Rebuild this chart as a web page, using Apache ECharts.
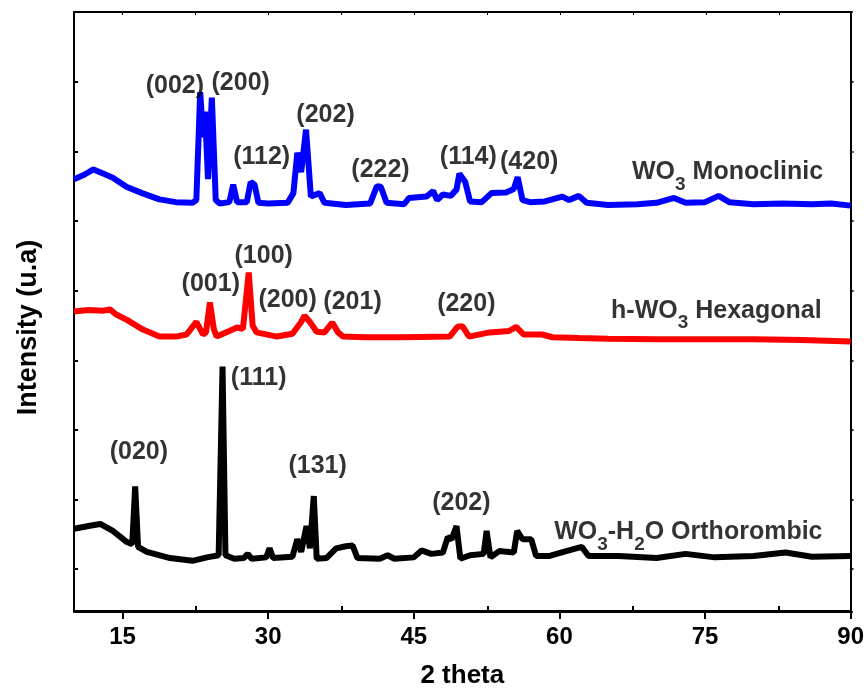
<!DOCTYPE html>
<html><head><meta charset="utf-8">
<script src="https://cdn.jsdelivr.net/npm/echarts@6/dist/echarts.min.js"></script>
<style>html,body{margin:0;padding:0;background:#fff}#c{width:867px;height:694px}</style>
</head><body><div id="c"></div>
<script>
// ---- data (2 theta in degrees, intensity in arbitrary units with vertical offsets) ----
const monoTheta = [10.0,11.0,12.0,13.0,14.0,15.4,17.0,18.8,20.5,22.2,22.6,23.0,23.3,23.5,23.8,24.2,24.6,25.0,26.0,26.4,26.8,27.8,28.2,28.6,29.0,30.0,32.0,32.6,33.0,33.4,33.9,34.4,35.3,35.8,38.0,40.5,41.2,41.6,42.2,44.0,44.5,46.3,47.0,47.4,48.0,48.8,49.4,49.7,50.3,50.8,52.0,53.0,54.5,55.3,55.7,56.2,57.0,58.5,60.3,61.0,62.0,62.8,65.0,68.0,70.0,71.8,73.0,75.0,76.4,77.5,80.0,83.0,86.0,88.0,90.0];
const monoInt   = [560,566,574,568,562,549,540,531,527,526,530,685,620,657,560,677,530,525,527,552,527,527,556,552,526,525,526,540,598,570,631,535,540,526,523,525,550,549,526,524,533,535,543,530,538,536,545,568,556,528,527,540,541,546,563,530,527,528,535,530,536,526,523,524,526,533,526,527,536,527,524,525,524,525,522];

const hexTheta = [10.0,11.5,13.0,13.7,14.3,15.45,17.1,18.8,20.5,21.6,22.6,23.3,23.6,24.0,24.4,24.7,26.0,26.8,27.4,28.0,28.4,28.8,30.9,32.5,33.4,33.75,34.3,35.0,35.8,36.6,37.2,37.7,40.0,44.0,48.7,49.5,50.0,50.7,52.8,54.8,55.55,56.3,58.2,59.3,62.0,65.0,70.0,75.0,80.0,85.0,90.0];
const hexInt   = [370,372,371,373,366,358,344,334,334,337,355,337,340,383,345,334,342,347,345,426,350,340,334,338,355,364,355,341,340,354,340,334,333,333,334,348,349,334,340,342,348,337,337,333,332,331,330,330,330,329,327];

const orthoTheta = [10.0,11.5,12.7,14.0,15.45,16.0,16.3,16.6,17.5,19.9,22.2,23.7,24.9,25.3,25.6,26.5,27.5,27.9,28.3,29.8,30.15,30.5,32.5,33.0,33.4,33.95,34.3,34.7,35.0,36.0,37.0,38.0,38.7,39.2,41.5,42.3,43.0,45.0,45.8,46.8,48.0,48.5,48.9,49.4,49.8,50.8,52.2,52.5,52.9,53.8,55.3,55.65,56.2,57.1,57.6,59.0,60.7,62.3,63.0,66.1,70.0,73.0,76.0,80.0,83.3,86.0,90.0];
const orthoInt   = [58,62,65,55,39,36,119,32,25,16,12,17,20,291,20,15,16,22,15,17,30,16,18,43,25,62,30,105,15,16,30,33,34,16,15,20,15,17,27,22,24,46,43,62,15,20,22,55,17,26,24,55,43,43,19,19,26,32,19,19,16,22,17,19,24,18,19];

// ---- axis ticks ----
const xTickValues = [15,30,45,60,75,90];
const xMinorTickValues = [22.5,37.5,52.5,67.5,82.5];
const xTopTickValues = [15,22.5,30,37.5,45,52.5,60,67.5,75,82.5];
const yTickValues = [0,100,200,300,400,500,600,700];

// ---- annotations (text and anchor in data units) ----
const peakText  = ['(002)','(200)','(112)','(202)','(222)','(114)','(420)','(001)','(100)','(200)','(201)','(220)','(020)','(111)','(131)','(202)'];
const peakTheta = [20.39,27.17,29.33,35.91,41.57,50.62,56.89,24.09,29.54,32.0,38.69,50.41,16.68,29.02,35.09,49.9];
const peakInt   = [694,698,591,652,573,591,585,409,449,387,384,381,168,275,148,95];

const sampleText  = ['{n|WO}{s|3}{n| Monoclinic}','{n|h-WO}{s|3}{n| Hexagonal}','{n|WO}{s|3}{n|-H}{s|2}{n|O Orthorombic}'];
const sampleTheta = [67.48,65.32,59.46];
const sampleInt   = [566,367,49];

const FONT = '"Liberation Sans", Arial, Helvetica, sans-serif';

function zip(a, b) { return a.map((v, i) => [v, b[i]]); }

const chart = echarts.init(document.getElementById('c'), null, {renderer: 'canvas'});

const peakData = peakText.map((t, i) => ({name: t, value: [peakTheta[i], peakInt[i]]}));
const sampleData = sampleText.map((t, i) => ({name: t, value: [sampleTheta[i], sampleInt[i]]}));

const option = {
  animation: false,
  backgroundColor: '#ffffff',
  grid: [
    {left: 74, right: 15, top: 12, bottom: 82},
    {left: 74, right: 15, top: 12, bottom: 82}
  ],
  xAxis: [
    {
      type: 'value', gridIndex: 0, min: 10, max: 90, position: 'bottom',
      axisLine: {show: true, onZero: false, lineStyle: {color: '#000', width: 2}},
      axisTick: {show: true, customValues: xTickValues, inside: false, length: 8, lineStyle: {color: '#000', width: 2}},
      axisLabel: {show: true, customValues: xTickValues, margin: 14, fontSize: 24, fontWeight: 'bold', color: '#000', fontFamily: FONT},
      splitLine: {show: false},
      name: '2 theta', nameLocation: 'middle', nameGap: 52,
      nameTextStyle: {fontSize: 26, fontWeight: 'bold', color: '#000', fontFamily: FONT}
    },
    {
      type: 'value', gridIndex: 1, min: 10, max: 90, position: 'bottom',
      axisLine: {show: true, onZero: false, lineStyle: {color: '#000', width: 2}},
      axisTick: {show: true, customValues: xMinorTickValues, inside: true, length: 6, lineStyle: {color: '#000', width: 2}},
      axisLabel: {show: false},
      splitLine: {show: false}
    },
    {
      type: 'value', gridIndex: 1, min: 10, max: 90, position: 'top',
      axisLine: {show: true, onZero: false, lineStyle: {color: '#000', width: 2}},
      axisTick: {show: true, customValues: xTopTickValues, inside: true, length: 3, lineStyle: {color: '#000', width: 1}},
      axisLabel: {show: false},
      splitLine: {show: false}
    }
  ],
  yAxis: [
    {
      type: 'value', gridIndex: 0, min: -60, max: 800, position: 'left',
      axisLine: {show: true, onZero: false, lineStyle: {color: '#000', width: 2}},
      axisTick: {show: true, customValues: yTickValues, inside: true, length: 4, lineStyle: {color: '#000', width: 2}},
      axisLabel: {show: false},
      splitLine: {show: false},
      name: 'Intensity (u.a)', nameLocation: 'middle', nameGap: 32,
      nameTextStyle: {fontSize: 27, fontWeight: 'bold', color: '#000', fontFamily: FONT, padding: [0, 32, 0, 0]}
    },
    {
      type: 'value', gridIndex: 0, min: -60, max: 800, position: 'right',
      axisLine: {show: true, onZero: false, lineStyle: {color: '#000', width: 2}},
      axisTick: {show: true, customValues: yTickValues, inside: false, length: 3, lineStyle: {color: '#000', width: 1.5}},
      axisLabel: {show: false},
      splitLine: {show: false}
    },
    {
      type: 'value', gridIndex: 1, min: -60, max: 800, show: false
    }
  ],
  series: [
    {
      name: 'WO3 Monoclinic', type: 'line', xAxisIndex: 0, yAxisIndex: 0,
      data: zip(monoTheta, monoInt), showSymbol: false, symbol: 'none',
      lineStyle: {color: '#0000ff', width: 6}, itemStyle: {color: '#0000ff'}, z: 2
    },
    {
      name: 'h-WO3 Hexagonal', type: 'line', xAxisIndex: 0, yAxisIndex: 0,
      data: zip(hexTheta, hexInt), showSymbol: false, symbol: 'none',
      lineStyle: {color: '#ff0000', width: 6}, itemStyle: {color: '#ff0000'}, z: 2
    },
    {
      name: 'WO3-H2O Orthorombic', type: 'line', xAxisIndex: 0, yAxisIndex: 0,
      data: zip(orthoTheta, orthoInt), showSymbol: false, symbol: 'none',
      lineStyle: {color: '#000000', width: 6}, itemStyle: {color: '#000000'}, z: 2
    },
    {
      name: 'peaks', type: 'scatter', xAxisIndex: 0, yAxisIndex: 0,
      data: peakData, symbolSize: 0, silent: true, z: 5,
      label: {
        show: true, position: [0, 0], align: 'center', verticalAlign: 'middle',
        formatter: '{b}', fontSize: 25, fontWeight: 'bold', color: '#000', fontFamily: FONT
      }
    },
    {
      name: 'samples', type: 'scatter', xAxisIndex: 0, yAxisIndex: 0,
      data: sampleData, symbolSize: 0, silent: true, z: 5,
      label: {
        show: true, position: [0, 0], align: 'left', verticalAlign: 'middle',
        formatter: '{b}', color: '#000',
        rich: {
          n: {fontSize: 25, fontWeight: 'bold', color: '#000', fontFamily: FONT, lineHeight: 30, verticalAlign: 'top'},
          s: {fontSize: 19, fontWeight: 'bold', color: '#000', fontFamily: FONT, lineHeight: 19, verticalAlign: 'top', padding: [15, 0, 0, 0]}
        }
      }
    }
  ]
};
chart.setOption(option);
</script></body></html>
